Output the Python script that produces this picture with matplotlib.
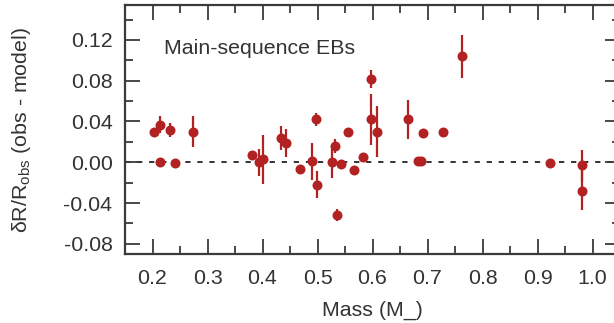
import matplotlib
matplotlib.use("Agg")
import matplotlib.pyplot as plt
from matplotlib.ticker import MultipleLocator, FormatStrFormatter

mass = [0.202, 0.214, 0.214, 0.231, 0.240, 0.274, 0.381, 0.394, 0.400, 0.434,
        0.442, 0.468, 0.490, 0.498, 0.499, 0.527, 0.532, 0.535, 0.542, 0.556,
        0.567, 0.583, 0.598, 0.598, 0.609, 0.664, 0.683, 0.689, 0.692, 0.729,
        0.763, 0.923, 0.980, 0.981]
dr = [0.030, 0.037, 0.000, 0.032, -0.001, 0.030, 0.007, 0.000, 0.003, 0.024,
      0.019, -0.007, 0.001, 0.042, -0.022, 0.000, 0.016, -0.052, -0.002, 0.030,
      -0.008, 0.005, 0.082, 0.042, 0.030, 0.042, 0.001, 0.001, 0.029, 0.030,
      0.104, -0.001, -0.003, -0.028]
err = [0.002, 0.008, 0.004, 0.007, 0.002, 0.015, 0.002, 0.013, 0.024, 0.012,
       0.014, 0.002, 0.018, 0.006, 0.013, 0.015, 0.007, 0.006, 0.003, 0.002,
       0.004, 0.002, 0.009, 0.025, 0.025, 0.019, 0.002, 0.002, 0.002, 0.003,
       0.021, 0.002, 0.015, 0.019]

plt.rcParams['font.family'] = ['Liberation Sans', 'DejaVu Sans']
plt.rcParams['axes.unicode_minus'] = False
plt.rcParams['mathtext.fontset'] = 'custom'
plt.rcParams['mathtext.rm'] = 'Liberation Sans'
plt.rcParams['mathtext.it'] = 'Liberation Sans'

TXT = '#333333'
RED = '#b22222'
FS = 15.4

fig = plt.figure(figsize=(6.14, 3.23), dpi=100)
ax = fig.add_axes([125/614, (323-254)/323, (620-125)/614, (254-5.3)/323])

ax.axhline(0, color='#333333', lw=1.4, ls=(0, (2.7, 3.5)), zorder=1)
ax.errorbar(mass, dr, yerr=err, fmt='o', color=RED, ms=7.2, elinewidth=1.6,
            capsize=0, mec=RED, mew=0, zorder=3)

ax.set_xlim(0.15, 1.05)
ax.set_ylim(-0.09, 0.154)
ax.xaxis.set_major_locator(MultipleLocator(0.1))
ax.xaxis.set_minor_locator(MultipleLocator(0.05))
ax.yaxis.set_major_locator(MultipleLocator(0.04))
ax.yaxis.set_minor_locator(MultipleLocator(0.02))
ax.xaxis.set_major_formatter(FormatStrFormatter('%.1f'))
ax.yaxis.set_major_formatter(FormatStrFormatter('%.2f'))

for s in ax.spines.values():
    s.set_linewidth(1.6)
    s.set_color('#3a3a3a')
ax.tick_params(which='both', direction='in', top=True, right=True,
               color='#3a3a3a', width=1.3, labelsize=FS, labelcolor=TXT)
ax.tick_params(which='major', length=11)
ax.tick_params(which='minor', length=5.5)
ax.tick_params(axis='y', pad=9)
ax.tick_params(axis='x', pad=11)

ax.set_xlabel('Mass (M_)', fontsize=FS, color=TXT, labelpad=9)
ax.set_ylabel(r'δR/R$_{\rm obs}$ (obs - model)', fontsize=FS, color=TXT, labelpad=22)

ax.text(0.2205, 0.112, 'Main-sequence EBs', fontsize=FS, color=TXT,
        ha='left', va='center')

fig.savefig('out.png', dpi=100)
